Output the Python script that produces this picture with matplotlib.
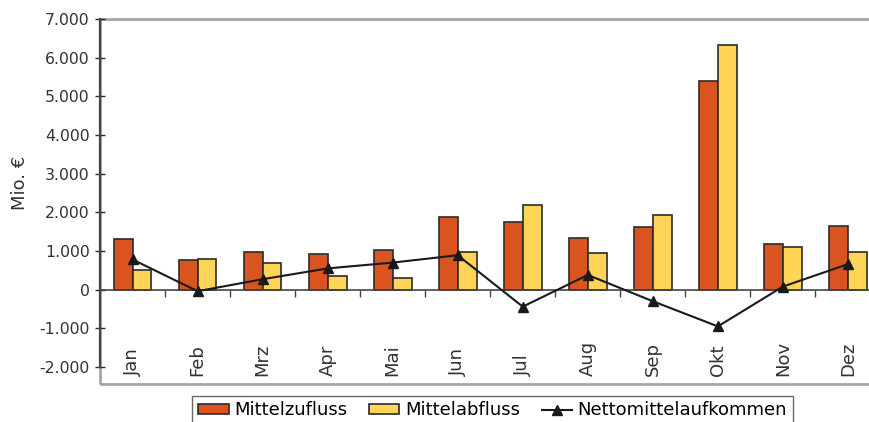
import numpy as np
import matplotlib.pyplot as plt
from matplotlib.patches import Rectangle

plt.rcParams['font.family'] = 'DejaVu Sans'

monate = ['Jan', 'Feb', 'Mrz', 'Apr', 'Mai', 'Jun', 'Jul', 'Aug', 'Sep', 'Okt', 'Nov', 'Dez']
zufluss = [1300, 760, 970, 910, 1020, 1880, 1740, 1330, 1620, 5390, 1180, 1640]
abfluss = [520, 790, 690, 350, 310, 980, 2180, 940, 1920, 6330, 1100, 970]
netto = [780, -40, 270, 550, 700, 890, -440, 380, -300, -950, 80, 660]

ORANGE = '#D9541E'
GELB = '#FFD457'
RAHMEN = '#a6a6a6'
DUNKEL = '#2b2b2b'
FS = 11.3   # y-Achse
FS2 = 13    # Monate, Legende, Achsentitel

fig = plt.figure(figsize=(8.69, 4.22), dpi=100)
# Achsenbereich reicht rechts leicht über die Abbildung hinaus (wie im Original)
ax = fig.add_axes([100 / 869, 1 - 384 / 422, 780.5 / 869, 365 / 422])

x = np.arange(len(monate))
b = 0.29
h1 = ax.bar(x - b / 2, zufluss, b, color=ORANGE, edgecolor=DUNKEL, linewidth=1.2,
            label='Mittelzufluss', zorder=2)
h2 = ax.bar(x + b / 2, abfluss, b, color=GELB, edgecolor=DUNKEL, linewidth=1.2,
            label='Mittelabfluss', zorder=2)
h3, = ax.plot(x, netto, color='#1a1a1a', linewidth=1.5, marker='^', markersize=6.5,
              label='Nettomittelaufkommen', zorder=3)

ax.set_xlim(-0.5, len(monate) - 0.5)
ax.set_ylim(-2440, 7000)

# y-Achse
ax.set_yticks(np.arange(-2000, 7001, 1000))
ax.set_yticklabels([f'{v:,}'.replace(',', '.') for v in range(-2000, 7001, 1000)])
ax.tick_params(axis='y', direction='inout', length=7, width=1, color=DUNKEL,
               labelsize=FS, labelcolor='#333333', pad=4)
ax.spines['left'].set_bounds(-2000, 7000)
ax.spines['left'].set_color('#444444')
ax.spines['left'].set_linewidth(1.6)

# x-Achse bei 0
ax.spines['bottom'].set_position(('data', 0))
ax.spines['bottom'].set_color('#444444')
ax.spines['bottom'].set_linewidth(1.2)
ax.spines['top'].set_visible(False)
ax.spines['right'].set_visible(False)
ax.set_xticks(x)
ax.set_xticklabels(monate, rotation=90, va='bottom')
ax.set_xticks(x[:-1] + 0.5, minor=True)
ax.tick_params(axis='x', which='major', length=0, labelsize=FS2,
               labelcolor='#333333', pad=62)
ax.tick_params(axis='x', which='minor', direction='out', length=5, width=1,
               color='#444444')

# grauer Rahmen um den Zeichenbereich
ax.add_patch(Rectangle((0, 0), 1, 1, transform=ax.transAxes, fill=False,
                       edgecolor=RAHMEN, linewidth=2, clip_on=False, zorder=0))

fig.text(20 / 869, 1 - 183 / 422, 'Mio. €', rotation=90, ha='center', va='center',
         fontsize=FS2, color='#333333')

leg = fig.legend([h1, h2, h3], ['Mittelzufluss', 'Mittelabfluss', 'Nettomittelaufkommen'],
                 loc='upper center', bbox_to_anchor=(492.5 / 869, 1 - 396 / 422),
                 ncol=3, fontsize=FS2, frameon=True, fancybox=False,
                 handlelength=1.7, handleheight=0.55, columnspacing=1.2,
                 handletextpad=0.3, borderpad=0.3, borderaxespad=0)
leg.get_frame().set_edgecolor('#444444')
leg.get_frame().set_linewidth(1.0)

fig.savefig('out.png', dpi=100)
